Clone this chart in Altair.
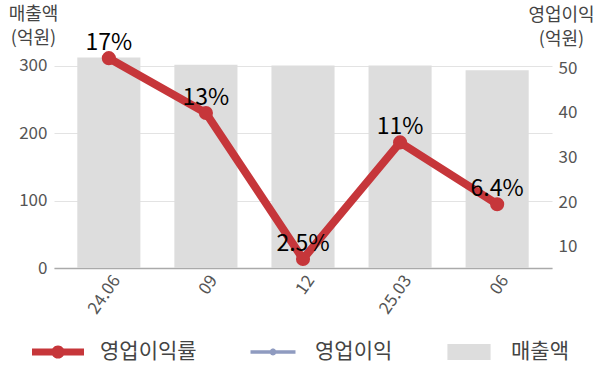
import altair as alt
import pandas as pd

# ---- data ----
periods = ["24.06", "09", "12", "25.03", "06"]
sales = [312, 301, 300, 300, 293]            # 매출액 (억원), left axis
op_profit = [52.2, 39.8, 7.0, 33.2, 19.2]     # 영업이익 (억원), right axis
op_margin = [16.8, 12.9, 2.5, 10.8, 6.4]      # 영업이익률 (%)

series_names = ["영업이익률", "영업이익", "매출액"]
series_colors = ["#c6363a", "#8f9bc0", "#dddddd"]

df = pd.DataFrame({"period": periods, "sales": sales,
                   "profit": op_profit, "margin": op_margin})

FONT = "Noto Sans CJK KR"

x_enc = alt.X(
    "period:N", sort=periods,
    scale=alt.Scale(paddingInner=0.35, paddingOuter=0.24),
    axis=alt.Axis(title=None, labelAngle=305, labelAlign="right",
                  labelBaseline="middle", labelFontSize=17, labelColor="#555",
                  labelFont=FONT, labelPadding=9, labelOffset=8,
                  ticks=False, tickSize=0,
                  domainColor="#aaaaaa", domainWidth=1.5, grid=False),
)

color_scale = alt.Scale(domain=series_names, range=series_colors)

red_path = ("M-1,-0.13H-0.219A0.255,0.255 0 0 1 0.219,-0.13H1V0.13H0.219"
            "A0.255,0.255 0 0 1 -0.219,0.13H-1Z")
blue_path = ("M-0.865,-0.07H-0.11A0.13,0.13 0 0 1 0.11,-0.07H0.865V0.07H0.11"
             "A0.13,0.13 0 0 1 -0.11,0.07H-0.865Z")
rect_path = "M-0.83,-0.31H0.83V0.31H-0.83Z"

shape_sig = ("datum.value === '매출액' ? '" + rect_path + "' : datum.value === '영업이익' ? '"
             + blue_path + "' : '" + red_path + "'")
fill_sig = ("datum.value === '매출액' ? '" + series_colors[2] + "' : datum.value === '영업이익' ? '"
            + series_colors[1] + "' : '" + series_colors[0] + "'")

legend = alt.Legend(
    title=None, orient="none", legendX=-22, legendY=274, direction="horizontal",
    symbolSize=2704, labelFontSize=21, labelFont=FONT, labelColor="#444",
    labelOffset=16, columnPadding=50, padding=0,
    symbolType={"expr": shape_sig},
    symbolFillColor={"expr": fill_sig},
    symbolStrokeColor="transparent", symbolStrokeWidth=0, symbolOpacity=1,
)

base = alt.Chart(df)

bars = base.transform_calculate(series="'매출액'").mark_bar().encode(
    x=x_enc,
    y=alt.Y("sales:Q",
            scale=alt.Scale(domain=[0, 320], nice=False, zero=False),
            axis=alt.Axis(orient="left", values=[0, 100, 200, 300],
                          title=["매출액", "(억원)"], titleAngle=0,
                          titleAlign="center", titleBaseline="top",
                          titleX=-21, titleY=-47, titleFontSize=18,
                          titleFontWeight="normal", titleColor="#444",
                          titleFont=FONT, titleLineHeight=24,
                          labelFontSize=17, labelColor="#555", labelFont=FONT,
                          labelPadding=7, ticks=False, tickSize=0, domain=False,
                          grid=True, gridColor="#e3e3e3", gridWidth=1)),
    color=alt.Color("series:N", scale=color_scale, legend=legend),
)

blue = base.transform_calculate(series="'영업이익'").mark_line(
    strokeWidth=3,
    point=alt.OverlayMarkDef(size=40, filled=True, opacity=1),
).encode(
    x=x_enc,
    y=alt.Y("profit:Q",
            scale=alt.Scale(domain=[5.22, 53.65], nice=False, zero=False),
            axis=alt.Axis(orient="right", values=[10, 20, 30, 40, 50],
                          title=["영업이익", "(억원)"], titleAngle=0,
                          titleAlign="center", titleBaseline="top",
                          titleX=9, titleY=-46, titleFontSize=18,
                          titleFontWeight="normal", titleColor="#444",
                          titleFont=FONT, titleLineHeight=24,
                          labelFontSize=17, labelColor="#555", labelFont=FONT,
                          labelPadding=6, ticks=False, tickSize=0, domain=False,
                          grid=False)),
    color=alt.Color("series:N", scale=color_scale, legend=legend),
)

margin_scale = alt.Scale(domain=[1.86, 17.24], nice=False, zero=False)

red = base.transform_calculate(series="'영업이익률'").mark_line(
    strokeWidth=8,
    point=alt.OverlayMarkDef(size=200, filled=True, opacity=1),
).encode(
    x=x_enc,
    y=alt.Y("margin:Q", scale=margin_scale, axis=None),
    color=alt.Color("series:N", scale=color_scale, legend=legend),
)

labels = base.transform_calculate(
    label="format(datum.margin, '.2r') + '%'"
).mark_text(dy=-8, baseline="alphabetic", align="center", fontSize=23,
            font=FONT, color="#000000").encode(
    x=x_enc,
    y=alt.Y("margin:Q", scale=margin_scale, axis=None),
    text="label:N",
)

chart = alt.layer(bars, blue, red, labels).resolve_scale(
    y="independent"
).properties(
    width=498, height=216,
    autosize=alt.AutoSizeParams(type="none"),
    padding={"left": 54, "top": 52, "right": 48, "bottom": 115},
    background="white",
).configure_view(stroke=None)

chart.save("out.html", embed_options={"renderer": "svg", "actions": False})
